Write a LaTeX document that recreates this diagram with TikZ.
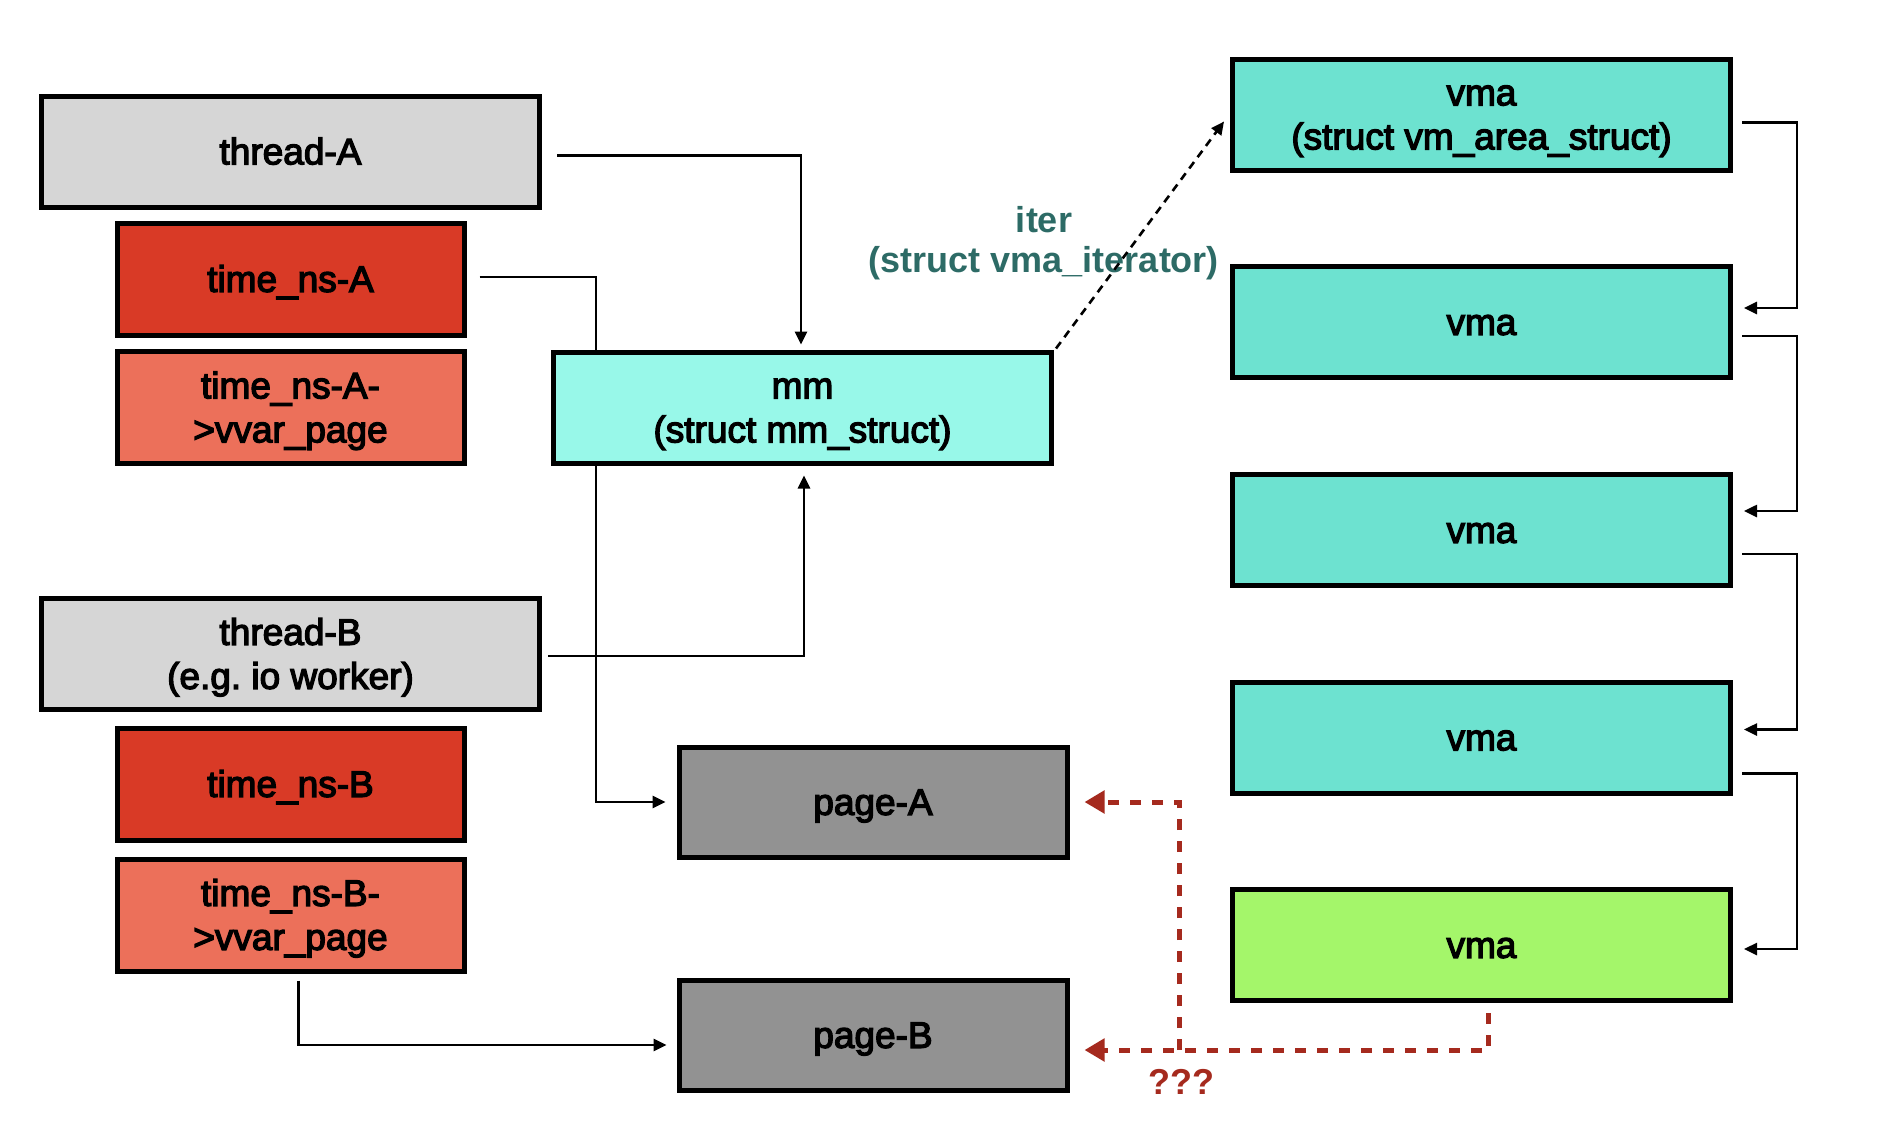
\documentclass[tikz,border=0pt]{standalone}
\usepackage{fontspec}
\setmainfont{Liberation Sans}
\newfontfamily\labfont{Liberation Sans}[FakeBold=3.5]
\usetikzlibrary{arrows.meta,backgrounds,calc}
\definecolor{threadgray}{HTML}{D6D6D6}
\definecolor{tnsred}{HTML}{D93A26}
\definecolor{vvarsalmon}{HTML}{EC705A}
\definecolor{mmcyan}{HTML}{98F8E9}
\definecolor{vmateal}{HTML}{6DE2D0}
\definecolor{vmagreen}{HTML}{A4F66A}
\definecolor{pagegray}{HTML}{929292}
\definecolor{itertext}{HTML}{2D6B66}
\definecolor{qred}{HTML}{A52A1E}
\newcommand{\lstrut}{\rule[-7.8pt]{0pt}{41.3pt}}
\frenchspacing
\begin{document}
\begin{tikzpicture}[x=1pt,y=-1pt,
  box/.style={draw=black, line width=5pt, align=center, inner sep=0pt,
    font=\labfont\fontsize{37}{44}\selectfont, text=black},
  bigbox/.style={box, minimum width=498pt, minimum height=111pt},
  smallbox/.style={box, minimum width=347pt, minimum height=112pt},
  pagebox/.style={box, minimum width=388pt, minimum height=110pt},
  conn/.style={line width=2.6pt, -{Triangle[length=13pt,width=12pt]}},
  itr/.style={line width=2.6pt, dash pattern=on 8pt off 6pt, -{Triangle[length=13pt,width=12pt]}},
  qarrow/.style={draw=qred, line width=5pt, dash pattern=on 11pt off 11pt, -{Triangle[length=20pt,width=22pt]}},
  lbl/.style={align=center, inner sep=0pt, font=\bfseries\fontsize{36}{40}\selectfont}
]
\useasboundingbox (0,0) rectangle (1880,1138);
\begin{pgfonlayer}{background}
\fill[white] (0,0) rectangle (1880,1138);
\end{pgfonlayer}

% left column
\node[bigbox, fill=threadgray] (threadA) at (290.5,151.5) {\lstrut thread-A};
\node[smallbox, fill=tnsred] (tnsA) at (290.5,279) {\lstrut time\_ns-A};
\node[smallbox, fill=vvarsalmon] (vvarA) at (290.5,407.5) {\lstrut time\_ns-A-\\\lstrut >vvar\_page};
\node[bigbox, fill=threadgray] (threadB) at (290.5,654) {\lstrut thread-B\\\lstrut (e.g. io worker)};
\node[smallbox, fill=tnsred] (tnsB) at (290.5,784) {\lstrut time\_ns-B};
\node[smallbox, fill=vvarsalmon] (vvarB) at (290.5,915) {\lstrut time\_ns-B-\\\lstrut >vvar\_page};

% middle
\node[bigbox, fill=mmcyan] (mm) at (802.5,407.5) {\lstrut mm\\\lstrut (struct mm\_struct)};
\node[pagebox, fill=pagegray] (pageA) at (873,802) {\lstrut page-A};
\node[pagebox, fill=pagegray] (pageB) at (873,1035) {\lstrut page-B};

% right column
\node[bigbox, fill=vmateal] (vma1) at (1481.5,114.5) {\lstrut vma\\\lstrut (struct vm\_area\_struct)};
\node[bigbox, fill=vmateal] (vma2) at (1481.5,322) {\lstrut vma};
\node[bigbox, fill=vmateal] (vma3) at (1481.5,530) {\lstrut vma};
\node[bigbox, fill=vmateal] (vma4) at (1481.5,737.5) {\lstrut vma};
\node[bigbox, fill=vmagreen] (vma5) at (1481.5,945) {\lstrut vma};

% iterator label
\node[lbl, text=itertext] (iterlbl) at (1044,243) {iter\\(struct vma\_iterator)};
\draw[itr] ([xshift=2pt,yshift=1pt]mm.north east) -- ([xshift=-6pt,yshift=-7pt]vma1.west);

% thread connectors
\draw[conn] ([xshift=15pt,yshift=-4pt]threadA.east) -| ([xshift=-1.5pt,yshift=5pt]mm.north);
\draw[conn] ([xshift=6pt,yshift=-2pt]threadB.east) -| ([xshift=1.5pt,yshift=-10pt]mm.south);

% time_ns-A to page-A, passing under mm
\coordinate (tAx) at (596,0);
\begin{pgfonlayer}{background}
\draw[conn] ([xshift=13pt,yshift=2pt]tnsA.east) -| (tAx |- pageA.west) -- ([xshift=-11pt]pageA.west);
\end{pgfonlayer}

% vvar-B to page-B
\draw[conn] ([xshift=8pt,yshift=-7pt]vvarB.south) |- ([xshift=-10pt,yshift=-10pt]pageB.west);

% vma chain
\coordinate (vx) at (1797,0);
\draw[conn] ([xshift=9pt,yshift=-8pt]vma1.east) -| (vx |- {$(vma2.east)+(0,-14)$}) -- ([xshift=11pt,yshift=14pt]vma2.east);
\draw[conn] ([xshift=9pt,yshift=-14pt]vma2.east) -| (vx |- {$(vma3.east)+(0,-19)$}) -- ([xshift=11pt,yshift=19pt]vma3.east);
\draw[conn] ([xshift=9pt,yshift=-24pt]vma3.east) -| (vx |- {$(vma4.east)+(0,-8)$}) -- ([xshift=11pt,yshift=8pt]vma4.east);
\draw[conn] ([xshift=9pt,yshift=-36pt]vma4.east) -| (vx |- {$(vma5.east)+(0,4)$}) -- ([xshift=11pt,yshift=-4pt]vma5.east);

% red dashed ???
\coordinate (jx) at (1179,1050);
\draw[qarrow] ([xshift=7pt,yshift=-10pt]vma5.south) |- ([xshift=15pt,yshift=-15pt]pageB.east);
\draw[qarrow] (jx) |- ([xshift=15pt]pageA.east);
\node[lbl, text=qred] (qq) at (1181,1082) {???};
\end{tikzpicture}
\end{document}
